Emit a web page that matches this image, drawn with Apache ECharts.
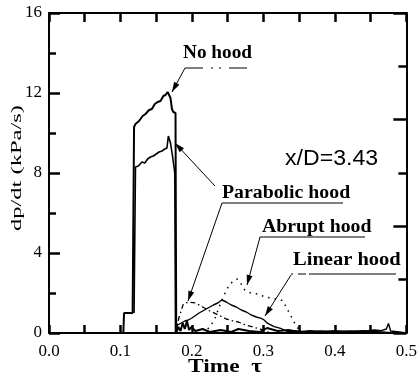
<!DOCTYPE html>
<html>
<head>
<meta charset="utf-8">
<script src="https://cdn.jsdelivr.net/npm/echarts@6/dist/echarts.min.js"></script>
<style>html,body{margin:0;padding:0;background:#fff}#c{width:420px;height:380px}</style>
</head>
<body>
<div id="c"></div>
<script>
// ---- data ----
const xTicks = [0.0, 0.1, 0.2, 0.3, 0.4, 0.5];
const yTicks = [0, 4, 8, 12, 16];

const noHoodT = [0.040, 0.104, 0.105, 0.117, 0.119, 0.121, 0.126, 0.131, 0.135, 0.140, 0.144, 0.148, 0.152, 0.156, 0.160, 0.163, 0.166, 0.168, 0.170, 0.172, 0.174, 0.176, 0.177, 0.178,
                 0.181, 0.184, 0.187, 0.190, 0.193, 0.196, 0.199, 0.205, 0.215, 0.225, 0.240, 0.255, 0.265, 0.280, 0.295, 0.305, 0.320, 0.335, 0.350, 0.365, 0.380, 0.400, 0.420, 0.440, 0.460, 0.480];
const noHoodV = [0, 0, 1.0, 1.0, 10.3, 10.45, 10.6, 10.85, 10.95, 11.15, 11.2, 11.45, 11.55, 11.6, 11.85, 11.9, 12.05, 12.1, 11.75, 11.2, 11.05, 11.0, 11.0, 0,
                 0.3, 0.1, 0.5, 0.2, 0.6, 0.15, 0.3, 0.1, 0.2, 0.05, 0.15, 0.05, 0.2, 0.1, 0.05, 0.25, 0.1, 0.15, 0.05, 0.1, 0.05, 0.1, 0.05, 0.1, 0.05, 0];

const parabolicT = [0.119, 0.121, 0.125, 0.130, 0.134, 0.138, 0.142, 0.146, 0.150, 0.154, 0.158, 0.162, 0.165, 0.167, 0.170, 0.173, 0.176, 0.177];
const parabolicV = [1.0, 8.3, 8.35, 8.55, 8.5, 8.7, 8.8, 8.85, 8.95, 9.05, 9.1, 9.2, 9.25, 9.85, 9.5, 8.8, 8.0, 0];

const parabolicLateT = [0.177, 0.182, 0.188, 0.195, 0.205, 0.215, 0.225, 0.237, 0.248, 0.258, 0.265, 0.275, 0.285, 0.300, 0.310];
const parabolicLateV = [0, 0.8, 1.45, 1.55, 1.5, 1.3, 1.1, 0.9, 0.7, 0.6, 0.55, 0.4, 0.3, 0.15, 0];

const linearT = [0.177, 0.180, 0.185, 0.190, 0.195, 0.200, 0.210, 0.220, 0.230, 0.236, 0.242, 0.248, 0.255, 0.262, 0.269, 0.276, 0.283, 0.290, 0.297, 0.301, 0.306, 0.315, 0.324, 0.334, 0.345, 0.360, 0.380, 0.400, 0.420, 0.440, 0.455, 0.465, 0.472, 0.475, 0.478, 0.490, 0.500];
const linearV = [0, 0.4, 0.5, 0.6, 0.65, 0.75, 1.0, 1.2, 1.4, 1.5, 1.65, 1.55, 1.4, 1.3, 1.15, 1.05, 0.9, 0.8, 0.73, 0.65, 0.48, 0.32, 0.23, 0.07, 0.1, 0.05, 0.1, 0.05, 0.1, 0.08, 0.15, 0.12, 0.2, 0.48, 0.1, 0.05, 0];

const abruptT = [0.215, 0.225, 0.232, 0.238, 0.245, 0.252, 0.258, 0.263, 0.268, 0.274, 0.283, 0.292, 0.301, 0.315, 0.327, 0.334, 0.340, 0.345, 0.352, 0.360];
const abruptV = [0, 0.3, 0.7, 1.3, 1.9, 2.4, 2.6, 2.7, 2.5, 2.15, 1.98, 1.95, 1.82, 1.72, 1.62, 1.15, 0.75, 0.4, 0.05, 0];

// ---- chart ----
const pairs = (t, v) => t.map((x, i) => [x, v[i]]);
const serif = '"Liberation Serif", "DejaVu Serif", serif';
const sans = '"Liberation Sans", Arial, sans-serif';

const chart = echarts.init(document.getElementById('c'));

function line(name, data, width, type) {
  return {
    name: name, type: 'line', data: data, showSymbol: false, symbol: 'none',
    xAxisIndex: 0, yAxisIndex: 0,
    lineStyle: {color: '#000', width: width, type: type || 'solid'}
  };
}

// annotation helpers (pixel layout)
function arrow(x1, y1, x2, y2) {
  const a = Math.atan2(y2 - y1, x2 - x1), L = 10, W = 3;
  const bx = x2 - L * Math.cos(a), by = y2 - L * Math.sin(a);
  return [
    {type: 'line', shape: {x1: x1, y1: y1, x2: x2, y2: y2}, style: {stroke: '#000', lineWidth: 1}},
    {type: 'polygon', shape: {points: [[x2, y2], [bx + W * Math.sin(a), by - W * Math.cos(a)], [bx - W * Math.sin(a), by + W * Math.cos(a)]]}, style: {fill: '#000'}}
  ];
}
function uline(x1, x2, y, dash) {
  return {type: 'line', shape: {x1: x1, y1: y, x2: x2, y2: y}, style: {stroke: '#000', lineWidth: 1.2, lineDash: dash || null}};
}
function label(text, x, y, sx) {
  return {type: 'text', x: x, y: y, scaleX: sx || 1.08, style: {text: text, fontSize: 18, fontWeight: 'bold', fontFamily: serif, fill: '#000', align: 'left', verticalAlign: 'middle'}};
}

const graphics = [].concat(
  [label('No hood', 183, 53, 1.07)],
  [uline(185, 247, 68, [18, 8, 2, 6, 2, 8, 18])],
  arrow(185, 68, 172, 92),
  [label('Parabolic hood', 222, 193, 1.1)],
  [uline(222, 343, 203)],
  arrow(215, 186, 175, 143),
  arrow(222, 203, 188, 301),
  [label('Abrupt hood', 262, 227, 1.1)],
  [uline(260, 365, 237)],
  arrow(260, 237, 247, 285),
  [label('Linear hood', 293, 260, 1.14)],
  [uline(291, 396, 274, [2, 5, 8, 3, 200])],
  arrow(291, 275, 265, 316),
  [{type: 'text', x: 285, y: 159, scaleX: 1.05, style: {text: 'x/D=3.43', fontSize: 22, fontFamily: sans, fill: '#000', align: 'left', verticalAlign: 'middle'}}],
  [{type: 'text', x: 225, y: 367, scaleX: 1.3, style: {text: 'Time  τ', fontSize: 18, fontWeight: 'bold', fontFamily: serif, fill: '#000', align: 'center', verticalAlign: 'middle'}}],
  [{type: 'text', x: 17, y: 168, rotation: Math.PI / 2, scaleX: 1.75, style: {text: 'dp/dt (kPa/s)', fontSize: 14, fontFamily: serif, fill: '#000', align: 'center', verticalAlign: 'middle'}}]
);

const al = () => ({show: true, onZero: false, lineStyle: {color: '#000', width: 2}});
const ts = () => ({color: '#000', width: 2.5});

chart.setOption({
  backgroundColor: '#fff',
  animation: false,
  grid: {left: 49, right: 10, top: 13, bottom: 47},
  xAxis: [
    {type: 'value', position: 'bottom', min: xTicks[0], max: xTicks[xTicks.length - 1], interval: 0.1,
     axisLine: al(), splitLine: {show: false},
     axisTick: {show: true, inside: true, length: 8, lineStyle: ts()},
     minorTick: {show: true, splitNumber: 2, length: 8, lineStyle: ts()},
     axisLabel: {show: true, margin: 10, color: '#000', fontSize: 17, fontFamily: serif, hideOverlap: false,
                 formatter: v => v.toFixed(1)}},
    {type: 'value', position: 'top', min: 0, max: 0.5, interval: 0.05,
     axisLine: al(), splitLine: {show: false},
     axisTick: {show: true, inside: true, length: 9, lineStyle: ts()},
     axisLabel: {show: false}}
  ],
  yAxis: [
    {type: 'value', position: 'left', min: yTicks[0], max: yTicks[yTicks.length - 1], interval: 4,
     axisLine: al(), splitLine: {show: false},
     axisTick: {show: true, inside: true, length: 11, lineStyle: ts()},
     minorTick: {show: true, splitNumber: 2, length: 7, lineStyle: ts()},
     axisLabel: {show: true, margin: 7, color: '#000', fontSize: 17, fontFamily: serif}},
    {type: 'value', position: 'right', min: 0, max: 6, interval: 2,
     axisLine: al(), splitLine: {show: false},
     axisTick: {show: true, inside: true, length: 13, lineStyle: ts()},
     minorTick: {show: true, splitNumber: 2, length: 8, lineStyle: ts()},
     axisLabel: {show: false}}
  ],
  series: [
    line('No hood', pairs(noHoodT, noHoodV), 2),
    line('Parabolic hood', pairs(parabolicT, parabolicV), 1.6),
    line('Parabolic hood (late)', pairs(parabolicLateT, parabolicLateV), 1.3, [5, 3, 1.5, 3]),
    line('Abrupt hood', pairs(abruptT, abruptV), 1.5, [1.5, 5]),
    line('Linear hood', pairs(linearT, linearV), 1.4)
  ],
  graphic: {elements: graphics}
});
</script>
</body>
</html>
